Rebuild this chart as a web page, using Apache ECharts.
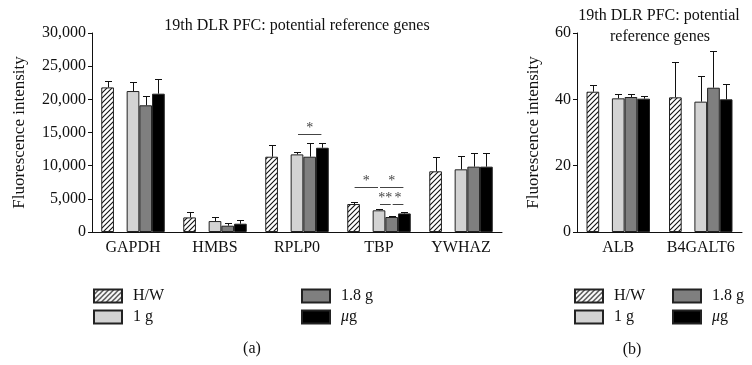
<!DOCTYPE html>
<html><head><meta charset="utf-8">
<script src="https://cdn.jsdelivr.net/npm/echarts@6/dist/echarts.min.js"></script>
<style>html,body{margin:0;padding:0;background:#fff}#c{width:752px;height:365px}</style>
</head><body><div id="c"></div>
<script>
// ---- data: panel (a) ----
const categoriesA = ['GAPDH', 'HMBS', 'RPLP0', 'TBP', 'YWHAZ'];
const hwA   = [21800, 2200, 11350, 4220, 9150];
const g1A   = [21250, 1650, 11700, 3270, 9450];
const g18A  = [19100,  950, 11350, 2260, 9850];
const ugA   = [20850, 1250, 12700, 2800, 9850];
const hwErrA  = [900, 850, 1700, 250, 2100];
const g1ErrA  = [1350, 650, 300, 150, 2000];
const g18ErrA = [1350, 450, 2000, 100, 2100];
const ugErrA  = [2150, 500, 750, 200, 2100];
const yTickLabelsA = ['0', '5,000', '10,000', '15,000', '20,000', '25,000', '30,000'];
// significance brackets: category index, from group slot, to group slot, level, mark
const sigCatA   = [2, 3, 3, 3, 3];
const sigFromA  = [2, 0, 2, 2, 3];
const sigToA    = [4, 2, 4, 3, 4];
const sigLevelA = [14770, 6830, 6830, 4220, 4220];
const sigMarkA  = ['*', '*', '*', '**', '*'];

// ---- data: panel (b) ----
const categoriesB = ['ALB', 'B4GALT6'];
const hwB   = [42.3, 40.6];
const g1B   = [40.3, 39.3];
const g18B  = [40.7, 43.5];
const ugB   = [40.2, 40.0];
const hwErrB  = [2.0, 10.6];
const g1ErrB  = [1.3, 7.7];
const g18ErrB = [0.9, 11.2];
const ugErrB  = [0.7, 4.7];
const yTickLabelsB = ['0', '20', '40', '60'];

const groupNames = ['H/W', '1 g', '1.8 g', 'μg'];

const FONT = "'Liberation Serif', 'DejaVu Serif', serif";
const BW = 12.7;   // bar width
const CAP = 7;     // error cap width

function hatch() {
  const s = 5;
  const c = document.createElement('canvas');
  c.width = s; c.height = s;
  const g = c.getContext('2d');
  g.fillStyle = '#fff'; g.fillRect(0, 0, s, s);
  g.strokeStyle = '#111'; g.lineWidth = 1.1;
  g.beginPath();
  g.moveTo(0, s); g.lineTo(s, 0);
  g.moveTo(-1, 1); g.lineTo(1, -1);
  g.moveTo(s - 1, s + 1); g.lineTo(s + 1, s - 1);
  g.stroke();
  return c;
}
const hatchFill = { image: hatch(), repeat: 'repeat' };
const fills = [hatchFill, '#d3d3d3', '#7f7f7f', '#000000'];
const slots = [0, 2, 3, 4];

function barSeries(name, data, fill, idx) {
  return {
    type: 'bar', name: name, data: data, xAxisIndex: idx, yAxisIndex: idx,
    barWidth: BW, barGap: '0%', silent: true,
    itemStyle: { color: fill, borderColor: '#222', borderWidth: 1 }
  };
}
function gapSeries(n, idx) {
  return { type: 'bar', name: '_gap', data: new Array(n).fill(null), xAxisIndex: idx, yAxisIndex: idx, barWidth: BW, barGap: '0%', silent: true };
}
function errSeries(vals, errs, idx) {
  const data = [];
  vals.forEach((arr, g) => arr.forEach((v, i) => data.push([i, slots[g], v, errs[g][i]])));
  return {
    type: 'custom', xAxisIndex: idx, yAxisIndex: idx, silent: true, z: 5,
    encode: { x: 0, y: 2 }, data: data,
    renderItem: function (params, api) {
      const i = api.value(0), s = api.value(1), v = api.value(2), e = api.value(3);
      const base = api.coord([i, v]);
      const top = api.coord([i, v + e]);
      const x = Math.round(base[0] + (s - 2) * BW) + 0.5;
      const yt = Math.round(top[1]) + 0.5;
      return { type: 'group', children: [
        { type: 'line', shape: { x1: x, y1: base[1], x2: x, y2: yt }, style: { stroke: '#111', lineWidth: 1 } },
        { type: 'line', shape: { x1: x - CAP / 2, y1: yt, x2: x + CAP / 2, y2: yt }, style: { stroke: '#111', lineWidth: 1 } }
      ]};
    }
  };
}
function sigSeries(idx) {
  const data = sigCatA.map((c, k) => [c, sigFromA[k], sigToA[k], sigLevelA[k]]);
  return {
    type: 'custom', xAxisIndex: idx, yAxisIndex: idx, silent: true, z: 6,
    encode: { x: 0, y: 3 }, data: data,
    renderItem: function (params, api) {
      const c = api.value(0), f = api.value(1), t = api.value(2), lv = api.value(3);
      const p = api.coord([c, lv]);
      const x1 = p[0] + (f - 2) * BW + 1, x2 = p[0] + (t - 2) * BW - 1;
      const y = Math.round(p[1]) + 0.5;
      return { type: 'group', children: [
        { type: 'line', shape: { x1: x1, y1: y, x2: x2, y2: y }, style: { stroke: '#444', lineWidth: 1 } },
        { type: 'text', style: { x: (x1 + x2) / 2, y: y + 1, text: sigMarkA[params.dataIndex], align: 'center', verticalAlign: 'bottom', fontFamily: FONT, fontSize: 14, fill: '#444' } }
      ]};
    }
  };
}

const legendCommon = {
  orient: 'vertical', itemWidth: 28, itemHeight: 13, itemGap: 5, icon: 'rect', selectedMode: false,
  formatter: n => n === 'μg' ? '{i|μ}g' : n,
  textStyle: { fontFamily: FONT, fontSize: 16, color: '#111', padding: [0, 0, 0, 6],
    rich: { i: { fontFamily: FONT, fontSize: 16, fontStyle: 'italic', color: '#111' } } }
};

const axisLabelStyle = { fontFamily: FONT, fontSize: 16, color: '#111' };

const valsA = [hwA, g1A, g18A, ugA], errsA = [hwErrA, g1ErrA, g18ErrA, ugErrA];
const valsB = [hwB, g1B, g18B, ugB], errsB = [hwErrB, g1ErrB, g18ErrB, ugErrB];

const series = [];
series.push(barSeries(groupNames[0], hwA, fills[0], 0));
series.push(gapSeries(categoriesA.length, 0));
for (let g = 1; g < 4; g++) series.push(barSeries(groupNames[g], valsA[g], fills[g], 0));
series.push(barSeries(groupNames[0], hwB, fills[0], 1));
series.push(gapSeries(categoriesB.length, 1));
for (let g = 1; g < 4; g++) series.push(barSeries(groupNames[g], valsB[g], fills[g], 1));
series.push(errSeries(valsA, errsA, 0));
series.push(errSeries(valsB, errsB, 1));
series.push(sigSeries(0));

const nameStyle = { fontFamily: FONT, fontSize: 17, color: '#111' };
const chart = echarts.init(document.getElementById('c'));
chart.setOption({
  animation: false,
  backgroundColor: '#fff',
  grid: [
    { left: 92, right: 250, top: 33, bottom: 133 },
    { left: 577, right: 10, top: 33, bottom: 133 }
  ],
  xAxis: [0, 1].map(i => ({
    type: 'category', gridIndex: i, data: i === 0 ? categoriesA : categoriesB,
    axisLine: { lineStyle: { color: '#111', width: 1 } }, axisTick: { show: false },
    axisLabel: Object.assign({ margin: 8, interval: 0, hideOverlap: false }, axisLabelStyle)
  })),
  yAxis: [
    { type: 'value', gridIndex: 0, min: 0, max: 30000, interval: 5000,
      name: 'Fluorescence intensity', nameLocation: 'middle', nameGap: 64,
      nameTextStyle: nameStyle,
      axisLine: { show: true, lineStyle: { color: '#111' } },
      axisTick: { show: true, length: 4, lineStyle: { color: '#111' } },
      splitLine: { show: false },
      axisLabel: Object.assign({ margin: 6, formatter: v => yTickLabelsA[Math.round(v / 5000)] }, axisLabelStyle) },
    { type: 'value', gridIndex: 1, min: 0, max: 60, interval: 20,
      name: 'Fluorescence intensity', nameLocation: 'middle', nameGap: 35,
      nameTextStyle: nameStyle,
      axisLine: { show: true, lineStyle: { color: '#111' } },
      axisTick: { show: true, length: 4, lineStyle: { color: '#111' } },
      splitLine: { show: false },
      axisLabel: Object.assign({ margin: 6, formatter: v => yTickLabelsB[Math.round(v / 20)] }, axisLabelStyle) }
  ],
  legend: [
    Object.assign({ data: ['H/W', '1 g'], left: 88, top: 283 }, legendCommon),
    Object.assign({ data: ['1.8 g', 'μg'], left: 296, top: 283 }, legendCommon),
    Object.assign({ data: ['H/W', '1 g'], left: 569, top: 283 }, legendCommon),
    Object.assign({ data: ['1.8 g', 'μg'], left: 667, top: 283 }, legendCommon)
  ],
  graphic: [
    { type: 'text', x: 297, y: 26, style: { text: '19th DLR PFC: potential reference genes', align: 'center', verticalAlign: 'middle', fontFamily: FONT, fontSize: 16, fill: '#111' } },
    { type: 'text', x: 659, y: 16, style: { text: '19th DLR PFC: potential', align: 'center', verticalAlign: 'middle', fontFamily: FONT, fontSize: 16, fill: '#111' } },
    { type: 'text', x: 660, y: 37, style: { text: 'reference genes', align: 'center', verticalAlign: 'middle', fontFamily: FONT, fontSize: 16, fill: '#111' } },
    { type: 'text', x: 252, y: 349, style: { text: '(a)', align: 'center', verticalAlign: 'middle', fontFamily: FONT, fontSize: 16, fill: '#111' } },
    { type: 'text', x: 632, y: 350, style: { text: '(b)', align: 'center', verticalAlign: 'middle', fontFamily: FONT, fontSize: 16, fill: '#111' } }
  ],
  series: series
});
</script>
</body></html>
